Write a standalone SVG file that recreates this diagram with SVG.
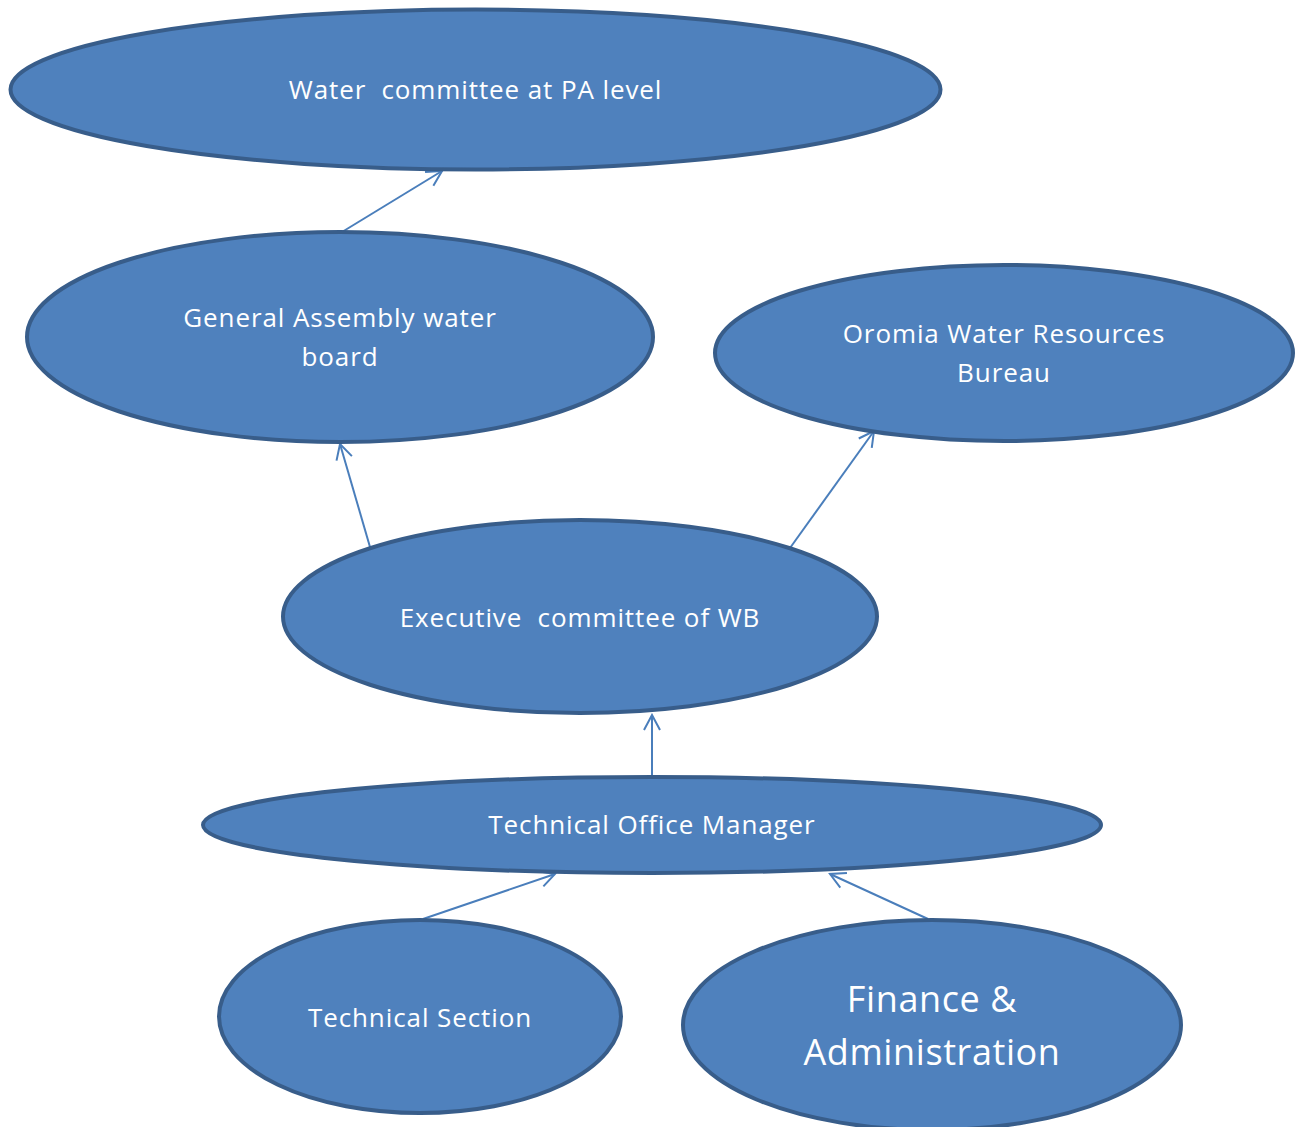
<svg xmlns="http://www.w3.org/2000/svg" width="1296" height="1127" viewBox="0 0 1296 1127">
  <defs>
    <style>
      .node ellipse { fill: #4F81BD; stroke: #385D8A; stroke-width: 4; }
      .node text { fill: #FFFFFF; font-family: "Open Sans", "Liberation Sans", sans-serif; font-size: 26px; letter-spacing: 0.9px; text-anchor: middle; }
      .node text.big { font-size: 36px; letter-spacing: 0.6px; }
      .link { stroke: #4A7EBB; stroke-width: 2; fill: none; marker-end: url(#open); }
    </style>
    <marker id="open" viewBox="0 0 20 20" refX="18" refY="10" markerWidth="20" markerHeight="20" markerUnits="userSpaceOnUse" orient="auto">
      <path d="M3,2 L18,10 L3,18" fill="none" stroke="#4A7EBB" stroke-width="2"/>
    </marker>
  </defs>

  <g id="connectors">
    <line class="link" x1="342" y1="232" x2="442" y2="171"/>
    <line class="link" x1="370" y1="547" x2="340" y2="444"/>
    <line class="link" x1="790" y1="548" x2="874" y2="431"/>
    <line class="link" x1="652" y1="776" x2="652" y2="715"/>
    <line class="link" x1="423" y1="919" x2="555" y2="874"/>
    <line class="link" x1="928" y1="919" x2="830" y2="874"/>
  </g>

  <g id="water-committee" class="node">
    <ellipse cx="475.5" cy="89.5" rx="465" ry="80"/>
    <text x="475.5" y="99" xml:space="preserve">Water  committee at PA level</text>
  </g>

  <g id="general-assembly" class="node">
    <ellipse cx="340" cy="337" rx="313" ry="105"/>
    <text x="340" y="327">General Assembly water</text>
    <text x="340" y="366">board</text>
  </g>

  <g id="oromia-bureau" class="node">
    <ellipse cx="1004" cy="353" rx="289" ry="88"/>
    <text x="1004" y="343">Oromia Water Resources</text>
    <text x="1004" y="382">Bureau</text>
  </g>

  <g id="executive-committee" class="node">
    <ellipse cx="580" cy="616.5" rx="297" ry="96.5"/>
    <text x="580" y="627" xml:space="preserve">Executive  committee of WB</text>
  </g>

  <g id="technical-office-manager" class="node">
    <ellipse cx="652" cy="825" rx="449" ry="48"/>
    <text x="652" y="834">Technical Office Manager</text>
  </g>

  <g id="technical-section" class="node">
    <ellipse cx="420" cy="1016.5" rx="201" ry="96.5"/>
    <text x="420" y="1027">Technical Section</text>
  </g>

  <g id="finance-administration" class="node">
    <ellipse cx="932" cy="1025" rx="249" ry="105"/>
    <text class="big" x="932" y="1012">Finance &amp;</text>
    <text class="big" x="932" y="1065">Administration</text>
  </g>
</svg>
